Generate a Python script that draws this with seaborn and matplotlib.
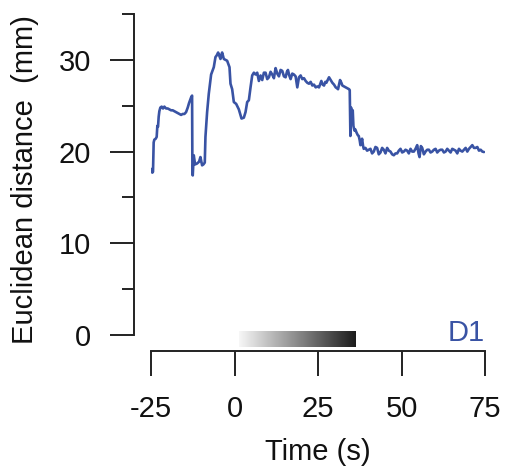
import numpy as np
import pandas as pd
import matplotlib as mpl
mpl.use("Agg")
import matplotlib.pyplot as plt
import seaborn as sns
from matplotlib.colors import LinearSegmentedColormap

# values
time_s = [-24.9, -24.6, -24.4, -24.2, -24.0, -23.6, -23.3, -23.1, -22.9, -22.7,
          -22.5, -22.2, -21.8, -21.4, -21.0, -20.5, -20.0, -19.5, -19.0, -18.5,
          -18.0, -17.5, -17.0, -16.5, -16.0, -15.5, -15.0, -14.5, -14.0, -13.6,
          -13.3, -13.0, -12.7, -12.6, -12.5, -12.2, -11.8, -11.2, -10.6, -10.2,
          -9.7, -9.3, -8.9, -8.7, -8.2, -7.7, -7.0, -6.2, -5.7, -5.3,
          -4.9, -4.5, -4.2, -3.9, -3.7, -3.2, -2.7, -2.2, -1.5, -1.2,
          -0.7, -0.2, 0.5, 1.3, 2.1, 2.8, 3.3, 3.8, 4.3, 4.8,
          5.3, 5.8, 6.3, 6.8, 7.3, 7.8, 8.3, 8.8, 9.3, 9.8,
          10.3, 10.8, 11.3, 11.8, 12.3, 12.8, 13.3, 13.8, 14.3, 14.8,
          15.3, 15.7, 16.0, 16.4, 16.8, 17.3, 17.8, 18.3, 18.8, 19.3,
          19.8, 20.3, 20.8, 21.3, 21.8, 22.3, 22.8, 23.3, 23.8, 24.3,
          24.8, 25.3, 25.7, 26.0, 26.4, 26.8, 27.2, 27.5, 27.9, 28.3,
          28.8, 29.3, 29.8, 30.3, 30.7, 31.0, 31.3, 31.6, 32.0, 32.3,
          32.8, 33.3, 33.8, 34.3, 34.5, 34.7, 34.9, 35.1, 35.4, 35.6,
          35.9, 36.2, 36.5, 36.9, 37.2, 37.5, 37.7, 38.0, 38.2, 38.5,
          38.7, 39.2, 39.7, 40.2, 40.7, 41.2, 41.7, 42.2, 42.7, 43.2,
          43.7, 44.2, 44.7, 45.2, 45.7, 46.2, 46.7, 47.2, 47.7, 48.2,
          48.7, 49.2, 49.7, 50.2, 50.7, 51.2, 51.7, 52.2, 52.7, 53.2,
          53.7, 54.2, 54.7, 55.1, 55.4, 55.8, 56.2, 56.7, 57.2, 57.7,
          58.2, 58.7, 59.2, 59.7, 60.2, 60.7, 61.2, 61.7, 62.2, 62.7,
          63.2, 63.7, 64.2, 64.7, 65.2, 65.7, 66.2, 66.7, 67.2, 67.7,
          68.2, 68.7, 69.2, 69.7, 70.2, 70.7, 71.2, 71.7, 72.2, 72.7,
          73.2, 73.7, 74.2, 74.7]
distance_mm = [18.1, 17.7, 17.8, 21.0, 21.3, 21.4, 21.6, 22.8, 22.7, 23.8,
               24.4, 24.8, 24.9, 24.7, 24.9, 24.7, 24.7, 24.6, 24.5, 24.5,
               24.4, 24.3, 24.2, 24.1, 24.0, 24.1, 24.1, 24.3, 24.8, 25.3,
               25.6, 25.9, 26.1, 17.5, 17.4, 19.6, 18.6, 18.7, 18.9, 19.4,
               18.5, 18.6, 18.8, 21.6, 24.3, 26.3, 28.4, 29.2, 30.3, 30.5,
               30.8, 30.4, 30.1, 30.6, 30.8, 30.1, 30.0, 29.9, 29.2, 27.4,
               26.8, 25.4, 25.2, 24.6, 23.6, 23.7, 24.3, 25.4, 25.6, 27.0,
               28.3, 28.6, 28.4, 28.6, 27.7, 28.3, 27.8, 28.6, 28.6, 27.9,
               28.1, 28.7, 28.4, 28.0, 29.1, 28.5, 28.2, 28.9, 28.8, 28.2,
               28.1, 28.7, 28.9, 28.3, 27.9, 28.5, 28.4, 28.2, 27.0, 28.1,
               28.3, 27.9, 28.0, 27.7, 27.5, 27.4, 27.6, 27.2, 27.3, 27.0,
               27.1, 27.0, 27.4, 27.7, 27.3, 27.2, 27.6, 27.5, 27.8, 28.1,
               27.8, 27.5, 27.3, 27.0, 26.9, 26.8, 27.3, 27.8, 27.5, 27.2,
               27.1, 27.0, 26.9, 26.8, 26.7, 21.7, 24.8, 24.1, 24.5, 22.8,
               22.3, 22.4, 22.1, 21.8, 21.7, 21.2, 20.7, 21.0, 21.4, 20.6,
               20.3, 20.4, 20.1, 20.2, 20.3, 19.8, 20.0, 20.5, 20.4, 19.7,
               19.9, 20.4, 20.2, 19.8, 20.4, 20.1, 20.0, 19.7, 19.6, 19.8,
               19.8, 20.1, 20.3, 19.9, 20.0, 20.2, 20.1, 19.8, 20.3, 20.0,
               20.0, 20.3, 20.7, 19.8, 19.4, 20.6, 20.4, 19.7, 20.0, 20.2,
               20.2, 19.9, 20.0, 20.2, 20.3, 19.9, 20.1, 20.2, 20.2, 19.9,
               20.0, 20.3, 20.1, 19.9, 20.3, 20.2, 20.1, 19.8, 20.3, 20.1,
               20.0, 20.2, 20.4, 20.0, 20.3, 20.5, 20.7, 20.4, 20.4, 20.5,
               20.1, 20.2, 20.0, 19.95]

x_ticks = [-25, 0, 25, 50, 75]
y_ticks = [0, 10, 20, 30]
stim_start, stim_end = 1.2, 36.2

df = pd.DataFrame({"Time": time_s, "Distance": distance_mm})

sns.set_style("ticks")
plt.rcParams["font.family"] = ["Liberation Sans", "DejaVu Sans"]
plt.rcParams["text.color"] = "#111111"
plt.rcParams["xtick.labelcolor"] = "#111111"
plt.rcParams["ytick.labelcolor"] = "#111111"
plt.rcParams["axes.labelcolor"] = "#111111"

blue = "#3953a4"
fig = plt.figure(figsize=(5.05, 4.71), dpi=100)
ax = fig.add_axes([151 / 505, 1 - 335 / 471, 334 / 505, 321 / 471])

sns.lineplot(data=df, x="Time", y="Distance", estimator=None, sort=False,
             color=blue, linewidth=1.9, ax=ax)

ax.set_xlim(-25, 75)
ax.set_ylim(0, 35)
ax.set_xticks(x_ticks)
ax.set_xticklabels([str(t) for t in x_ticks])
ax.set_yticks(y_ticks)
ax.set_yticks([5, 15, 25, 35], minor=True)

sns.despine(ax=ax)
# outward offsets are in points (px * 0.72)
ax.spines["left"].set_position(("outward", 12.2))
ax.spines["bottom"].set_position(("outward", 11.5))
for s in ["left", "bottom"]:
    ax.spines[s].set_linewidth(1.4)
    ax.spines[s].set_color("#222222")

ax.tick_params(axis="y", which="major", length=17, width=1.4, pad=14,
               labelsize=21, color="#222222")
ax.tick_params(axis="y", which="minor", length=8.5, width=1.4, color="#222222")
ax.tick_params(axis="x", which="major", length=18, width=1.4, pad=14,
               labelsize=21, color="#222222")

ax.set_xlabel("Time (s)", fontsize=21)
ax.set_ylabel("Euclidean distance  (mm)", fontsize=21)
ax.xaxis.set_label_coords(0.5, -0.322)
ax.yaxis.set_label_coords(-0.335, 0.483)

# stimulus gradient bar
cmap = LinearSegmentedColormap.from_list("stim", ["#f7f7f7", "#1c1c1c"])
grad = np.linspace(0, 1, 256).reshape(1, -1)
ax.imshow(grad, cmap=cmap, aspect="auto", extent=(stim_start, stim_end, -1.3, 0.4),
          clip_on=False, zorder=3)
ax.set_xlim(-25, 75)
ax.set_ylim(0, 35)

ax.text(75, -0.7, "D1", color=blue, fontsize=21, ha="right", va="baseline",
        clip_on=False)

fig.savefig("out.png", dpi=100)
